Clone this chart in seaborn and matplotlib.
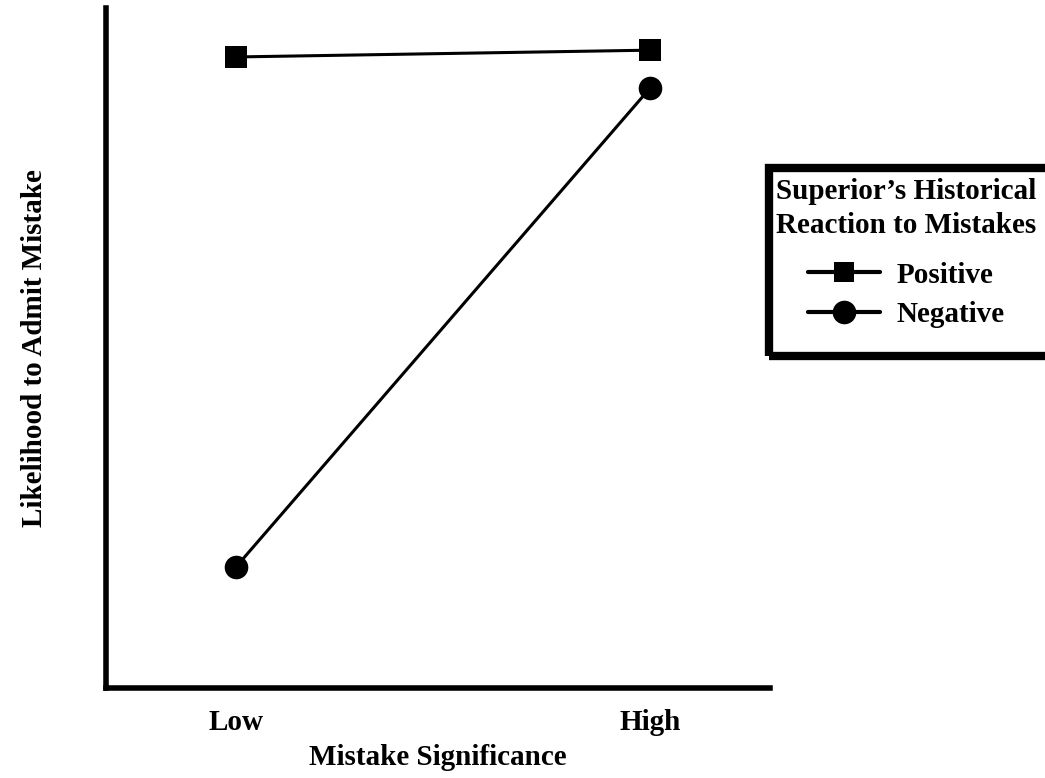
import seaborn as sns
import matplotlib.pyplot as plt
import pandas as pd
from matplotlib.lines import Line2D
from matplotlib.patches import Rectangle

# data (arbitrary 0-10 scale)
significance = ['Low', 'High']
sig_pos = [0, 1]
positive = [9.28, 9.38]
negative = [1.78, 8.82]

df = pd.DataFrame({
    'x': sig_pos * 2,
    'y': positive + negative,
    'reaction': ['Positive'] * 2 + ['Negative'] * 2,
})

sns.set_style('white')
plt.rcParams['font.family'] = ['Liberation Serif', 'DejaVu Serif']
plt.rcParams['font.weight'] = 'bold'
plt.rcParams['text.color'] = 'black'
plt.rcParams['axes.labelcolor'] = 'black'
plt.rcParams['xtick.color'] = 'black'

W, H = 1045, 778
fig = plt.figure(figsize=(W / 100, H / 100), dpi=100)
ax = fig.add_axes([106 / W, 1 - 688 / H, (770 - 106) / W, (688 - 8) / H])

sns.lineplot(data=df, x='x', y='y', hue='reaction', style='reaction',
             markers={'Positive': 's', 'Negative': 'o'}, dashes=False,
             palette={'Positive': 'black', 'Negative': 'black'},
             linewidth=2.2, markersize=16, markeredgewidth=0, ax=ax, legend=False)
for ln in ax.lines:
    if ln.get_marker() == 'o':
        ln.set_markersize(17)

ax.set_xlim(-0.314, 1.29)
ax.set_ylim(0, 10)
ax.set_xticks(sig_pos)
ax.set_xticklabels(significance, fontsize=21, fontweight='bold')
ax.set_yticks([])
ax.tick_params(axis='x', length=0, pad=15)
ax.set_xlabel('Mistake Significance', fontsize=21, fontweight='bold', labelpad=6)
ax.set_ylabel('Likelihood to Admit Mistake', fontsize=21, fontweight='bold', labelpad=42)
for s in ['top', 'right']:
    ax.spines[s].set_visible(False)
for s in ['left', 'bottom']:
    ax.spines[s].set_linewidth(4)
    ax.spines[s].set_color('black')

# legend (frame drawn separately, it runs off the right edge)
handles = [
    Line2D([], [], color='black', lw=3, marker='s', markersize=15, markeredgewidth=0),
    Line2D([], [], color='black', lw=3, marker='o', markersize=17, markeredgewidth=0),
]
leg = ax.legend(handles, ['Positive', 'Negative'],
                title="Superior\u2019s Historical\nReaction to Mistakes",
                loc='upper left', bbox_to_anchor=(776 / W, 1 - 178 / H),
                bbox_transform=fig.transFigure, frameon=False,
                prop={'size': 21, 'weight': 'bold'},
                title_fontproperties={'size': 21, 'weight': 'bold'},
                handlelength=2.5, handletextpad=0.55, labelspacing=0.42,
                borderpad=0, borderaxespad=0)
leg.get_title().set_linespacing(1.35)
leg._legend_box.sep = 16

fig.add_artist(Rectangle((769 / W, 1 - 355.5 / H), (1070 - 769) / W, (355.5 - 167.5) / H,
                         transform=fig.transFigure, fill=False,
                         edgecolor='black', linewidth=6))

fig.savefig('out.png', dpi=100)
